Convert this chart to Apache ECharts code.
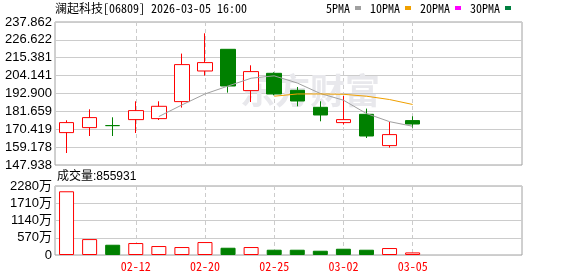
<!DOCTYPE html>
<html><head><meta charset="utf-8">
<script src="https://cdn.jsdelivr.net/npm/echarts@6/dist/echarts.min.js"></script>
<style>html,body{margin:0;padding:0;background:#fff}#c{width:578px;height:276px}</style>
</head><body><div id="c"></div>
<script>
// ---- data ----
const dates  = ['02-09','02-10','02-11','02-12','02-13','02-16','02-20','02-23','02-24','02-25','02-26','02-27','03-02','03-03','03-04','03-05'];
const opens  = [168.31, 171.45, 172.71, 176.48, 177.11, 187.80, 207.05, 220.69, 194.72, 205.60, 194.91, 184.22, 174.60, 179.82, 160.14, 175.86];
const closes = [174.60, 177.74, 172.71, 182.14, 184.85, 211.07, 212.33, 197.61, 206.67, 192.58, 188.18, 179.38, 176.48, 166.17, 167.05, 173.72];
const lows   = [155.48, 166.17, 166.17, 168.06, 176.23, 184.03, 204.15, 193.46, 187.55, 191.77, 184.85, 175.42, 173.34, 164.91, 158.88, 171.45];
const highs  = [176.05, 182.96, 177.93, 187.99, 187.99, 217.99, 230.75, 220.69, 210.63, 206.23, 196.99, 187.99, 191.33, 183.40, 174.98, 178.56];
const ma5    = [null, null, null, null, 178.4, 185.7, 192.6, 197.6, 202.5, 204.0, 199.5, 192.9, 188.7, 180.3, 175.2, 172.3];
const ma10   = [null, null, null, null, null, null, null, null, null, 191.2, 192.6, 192.6, 192.4, 191.2, 189.1, 186.0];
const volumes = [2105.6, 526, 339, 395, 296, 263, 428, 240, 263, 174, 174, 141, 207, 174, 230, 85.5931]; // 万股
const priceTicks = ['147.938','159.178','170.419','181.659','192.900','204.141','215.381','226.622','237.862'];
const volTicks = [0, 570, 1140, 1710, 2280];
const labelIdx = [3, 6, 9, 12, 15];
const titleText = '澜起科技[06809] 2026-03-05 16:00';
const volTitle = '成交量:855931';
const legendNames = ['5PMA','10PMA','20PMA','30PMA'];

// ---- chart ----
const RED = '#ff0000', GREEN = '#008000';
const MONO = "'Noto Sans Mono CJK SC','Liberation Mono',monospace";
const SANS = "'Liberation Sans','Noto Sans CJK SC',sans-serif";
const chart = echarts.init(document.getElementById('c'));
const pTicks = priceTicks.map(Number);
const candleData = dates.map((d, i) => [i, opens[i], closes[i], lows[i], highs[i]]);
const volData = volumes.map((v, i) => {
  const up = i === 0 || closes[i] >= closes[i - 1];
  return { value: [i, v], itemStyle: up ? { color: '#fff', borderColor: RED, borderWidth: 1 } : { color: GREEN, borderColor: GREEN, borderWidth: 1 } };
});
const pairs = arr => arr.map((v, i) => v == null ? null : [i, v]).filter(Boolean);

function xAxisFor(gi, showLabel) {
  return {
    type: 'value', gridIndex: gi, min: -0.5, max: 19.74,
    axisLine: { show: false },
    axisTick: { show: false, customValues: labelIdx },
    axisLabel: { show: showLabel, customValues: labelIdx, formatter: v => dates[Math.round(v)] || '', color: RED, fontSize: 12, fontFamily: MONO, margin: 5 },
    splitLine: { show: true, lineStyle: { color: '#cccccc', type: [4, 3], width: 1 } }
  };
}

chart.setOption({
  animation: false,
  backgroundColor: '#fff',
  title: [
    { text: titleText, left: 55, top: 1, padding: 0, textStyle: { fontSize: 12, fontWeight: 'normal', fontFamily: MONO, color: '#000', lineHeight: 14 } },
    { text: volTitle, left: 57, top: 170, padding: 0, textStyle: { fontSize: 12, fontWeight: 'normal', fontFamily: SANS, color: '#000', lineHeight: 14 } }
  ],
  legend: {
    right: 67, top: 2, padding: 0, align: 'right', icon: 'rect', itemWidth: 6, itemHeight: 4, itemGap: 9,
    textStyle: { fontSize: 12, fontFamily: MONO, color: '#000' },
    data: legendNames
  },
  graphic: [
    { type: 'text', left: 240, top: 73, z: 1, silent: true,
      style: { text: '东方财富', fontSize: 35, fontWeight: 'bold', fontFamily: "'Noto Sans CJK SC'", fill: '#e8e8ec' } }
  ],
  grid: [
    { left: 55, right: 56, top: 22, height: 143, show: true, borderColor: '#a0a0a0', borderWidth: 1, backgroundColor: 'transparent' },
    { left: 55, right: 56, top: 186, height: 69, show: true, borderColor: '#a0a0a0', borderWidth: 1, backgroundColor: 'transparent' }
  ],
  xAxis: [xAxisFor(0, false), xAxisFor(1, true)],
  yAxis: [
    { type: 'value', gridIndex: 0, min: pTicks[0], max: pTicks[pTicks.length - 1],
      axisLine: { show: false }, axisTick: { show: false, customValues: pTicks },
      axisLabel: { customValues: pTicks, formatter: v => Number(v).toFixed(3), color: '#000', fontSize: 13, fontFamily: SANS, margin: 3 },
      splitLine: { show: true, lineStyle: { color: '#cccccc', width: 1 } } },
    { type: 'value', gridIndex: 1, min: 0, max: volTicks[volTicks.length - 1],
      axisLine: { show: false }, axisTick: { show: false, customValues: volTicks },
      axisLabel: { customValues: volTicks, formatter: v => v === 0 ? '0' : v + '万', color: '#000', fontSize: 13, fontFamily: SANS, margin: 3 },
      splitLine: { show: true, lineStyle: { color: '#cccccc', width: 1 } } }
  ],
  series: [
    { type: 'candlestick', name: 'K', xAxisIndex: 0, yAxisIndex: 0, data: candleData, barWidth: 15, z: 3,
      itemStyle: { color: '#fff', color0: GREEN, borderColor: RED, borderColor0: GREEN, borderWidth: 1 } },
    { type: 'line', name: '5PMA', xAxisIndex: 0, yAxisIndex: 0, data: pairs(ma5), showSymbol: false, symbol: 'none', z: 4,
      lineStyle: { color: '#a0a0a0', width: 1 }, itemStyle: { color: '#a0a0a0' } },
    { type: 'line', name: '10PMA', xAxisIndex: 0, yAxisIndex: 0, data: pairs(ma10), showSymbol: false, symbol: 'none', z: 4,
      lineStyle: { color: '#f0a000', width: 1 }, itemStyle: { color: '#f0a000' } },
    { type: 'line', name: '20PMA', xAxisIndex: 0, yAxisIndex: 0, data: [], symbol: 'none',
      lineStyle: { color: '#ff00ff', width: 1 }, itemStyle: { color: '#ff00ff' } },
    { type: 'line', name: '30PMA', xAxisIndex: 0, yAxisIndex: 0, data: [], symbol: 'none',
      lineStyle: { color: '#007f3f', width: 1 }, itemStyle: { color: '#007f3f' } },
    { type: 'bar', name: 'VOL', xAxisIndex: 1, yAxisIndex: 1, data: volData, barWidth: 15 }
  ]
});
</script></body></html>
